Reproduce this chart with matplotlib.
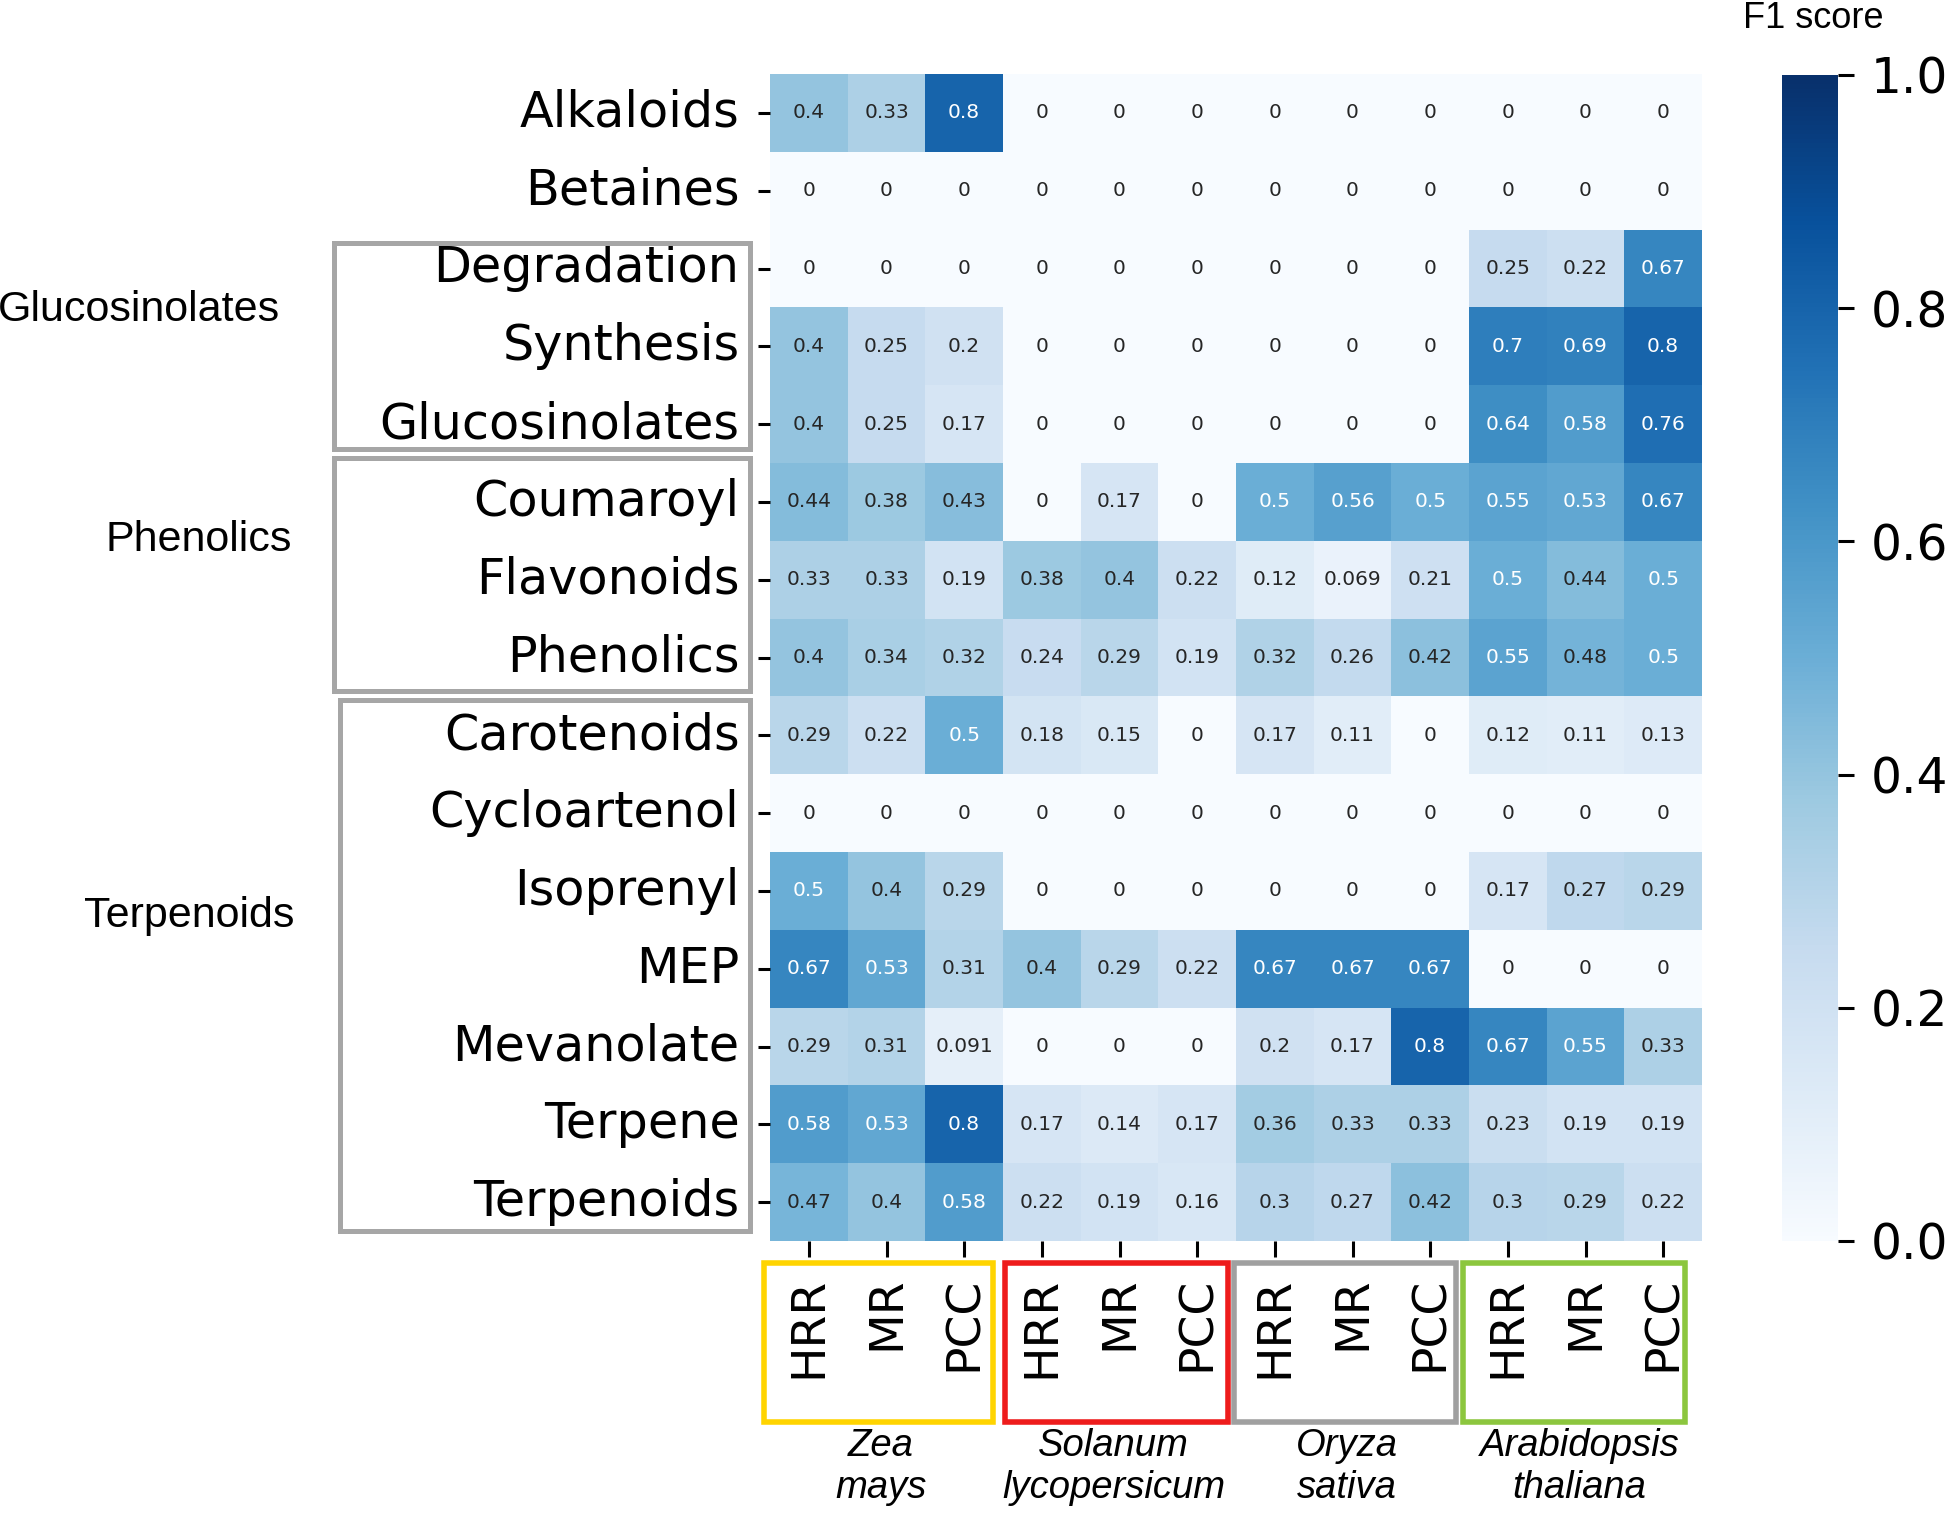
import numpy as np
import matplotlib
matplotlib.use("Agg")
import matplotlib.pyplot as plt
import seaborn as sns
from matplotlib.patches import Rectangle

# ---------------- data ----------------
pathways = ["Alkaloids", "Betaines", "Degradation", "Synthesis", "Glucosinolates",
            "Coumaroyl", "Flavonoids", "Phenolics", "Carotenoids", "Cycloartenol",
            "Isoprenyl", "MEP", "Mevanolate", "Terpene", "Terpenoids"]
methods = ["HRR", "MR", "PCC"] * 4
species = ["Zea\nmays", "Solanum\nlycopersicum", "Oryza\nsativa", "Arabidopsis\nthaliana"]
species_colors = ["#FFD400", "#EE1C1C", "#A0A0A0", "#8CC63E"]
groups = ["Glucosinolates", "Phenolics", "Terpenoids"]

alkaloids      = [0.4, 0.33, 0.8, 0, 0, 0, 0, 0, 0, 0, 0, 0]
betaines       = [0, 0, 0, 0, 0, 0, 0, 0, 0, 0, 0, 0]
degradation    = [0, 0, 0, 0, 0, 0, 0, 0, 0, 0.25, 0.22, 0.67]
synthesis      = [0.4, 0.25, 0.2, 0, 0, 0, 0, 0, 0, 0.7, 0.69, 0.8]
glucosinolates = [0.4, 0.25, 0.17, 0, 0, 0, 0, 0, 0, 0.64, 0.58, 0.76]
coumaroyl      = [0.44, 0.38, 0.43, 0, 0.17, 0, 0.5, 0.56, 0.5, 0.55, 0.53, 0.67]
flavonoids     = [0.33, 0.33, 0.19, 0.38, 0.4, 0.22, 0.12, 0.069, 0.21, 0.5, 0.44, 0.5]
phenolics      = [0.4, 0.34, 0.32, 0.24, 0.29, 0.19, 0.32, 0.26, 0.42, 0.55, 0.48, 0.5]
carotenoids    = [0.29, 0.22, 0.5, 0.18, 0.15, 0, 0.17, 0.11, 0, 0.12, 0.11, 0.13]
cycloartenol   = [0, 0, 0, 0, 0, 0, 0, 0, 0, 0, 0, 0]
isoprenyl      = [0.5, 0.4, 0.29, 0, 0, 0, 0, 0, 0, 0.17, 0.27, 0.29]
mep            = [0.67, 0.53, 0.31, 0.4, 0.29, 0.22, 0.67, 0.67, 0.67, 0, 0, 0]
mevanolate     = [0.29, 0.31, 0.091, 0, 0, 0, 0.2, 0.17, 0.8, 0.67, 0.55, 0.33]
terpene        = [0.58, 0.53, 0.8, 0.17, 0.14, 0.17, 0.36, 0.33, 0.33, 0.23, 0.19, 0.19]
terpenoids     = [0.47, 0.4, 0.58, 0.22, 0.19, 0.16, 0.3, 0.27, 0.42, 0.3, 0.29, 0.22]

values = np.array([alkaloids, betaines, degradation, synthesis, glucosinolates,
                   coumaroyl, flavonoids, phenolics, carotenoids, cycloartenol,
                   isoprenyl, mep, mevanolate, terpene, terpenoids])

# ---------------- figure ----------------
W, H = 1955, 1514
fig = plt.figure(figsize=(W / 100, H / 100), dpi=100)

def fx(x):
    return x / W

def fy(y):
    return 1 - y / H

ax = fig.add_axes([fx(770), fy(1241), fx(1702) - fx(770), fy(74) - fy(1241)])
cax = fig.add_axes([fx(1782), fy(1241), fx(1838) - fx(1782), fy(75) - fy(1241)])

sns.heatmap(values, ax=ax, cbar_ax=cax, cmap="Blues", vmin=0, vmax=1,
            annot=True, fmt=".2g", annot_kws={"size": 14.5, "family": "DejaVu Sans"},
            xticklabels=methods, yticklabels=pathways)

ax.tick_params(axis="y", length=9, width=2.2, labelsize=35.5, pad=13, labelrotation=0)
ax.tick_params(axis="x", length=11.5, width=2.2, labelsize=34, pad=14, labelrotation=90)
for lab in ax.get_yticklabels() + ax.get_xticklabels():
    lab.set_family("DejaVu Sans")

cax.tick_params(length=11.5, width=2.2, labelsize=35, pad=12)
cax.set_yticks([0, 0.2, 0.4, 0.6, 0.8, 1.0])
cax.set_yticklabels(["0.0", "0.2", "0.4", "0.6", "0.8", "1.0"], family="DejaVu Sans")
for sp in cax.spines.values():
    sp.set_visible(False)
fig.text(fx(1813), fy(19), "F1 score", ha="center", va="center",
         family="Liberation Sans", fontsize=26)

# ---------------- left group boxes ----------------
left_boxes = [(334, 243, 750, 449), (334, 458, 750, 691), (340, 700, 750, 1231)]
for (x0, y0, x1, y1) in left_boxes:
    fig.patches.append(Rectangle((fx(x0), fy(y1)), fx(x1) - fx(x0), fy(y0) - fy(y1),
                                 transform=fig.transFigure, fill=False,
                                 edgecolor="#A6A6A6", linewidth=3.6, zorder=5))

group_label_pos = [(280, 310), (292, 540), (294, 916)]
for name, (x, y) in zip(groups, group_label_pos):
    fig.text(fx(x), fy(y), name, ha="right", va="center",
             family="Liberation Sans", fontsize=31)

# ---------------- bottom species boxes ----------------
bottom_boxes = [(764, 993), (1005, 1228), (1234, 1456), (1463, 1685)]
for (x0, x1), col in zip(bottom_boxes, species_colors):
    fig.patches.append(Rectangle((fx(x0), fy(1422)), fx(x1) - fx(x0), fy(1263) - fy(1422),
                                 transform=fig.transFigure, fill=False,
                                 edgecolor=col, linewidth=4, zorder=5))

for i, name in enumerate(species):
    cx = ax.transData.transform((3 * i + 1.5, 0))[0]
    fig.text(cx / fig.dpi / fig.get_figwidth() - 0.003, fy(1467), name, ha="center", va="center",
             family="Liberation Sans", style="italic", fontsize=27.5, linespacing=1.2)

fig.savefig("out.png", dpi=100)
